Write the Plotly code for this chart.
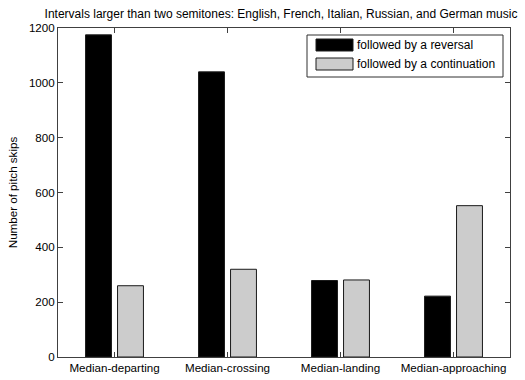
import plotly.graph_objects as go

# Skip categories and counts for each outcome
categories = ["Median-departing", "Median-crossing", "Median-landing", "Median-approaching"]
reversal = [1175, 1040, 279, 222]
continuation = [260, 320, 281, 552]
series_names = ["followed by a reversal", "followed by a continuation"]
y_ticks = [0, 200, 400, 600, 800, 1000, 1200]

FONT = "Liberation Sans, Arial, sans-serif"
colors = ["#000000", "#cccccc"]

fig = go.Figure()
for name, vals, col in zip(series_names, [reversal, continuation], colors):
    fig.add_trace(go.Bar(
        x=[1, 2, 3, 4], y=vals, name=name,
        marker=dict(color=col, line=dict(color="#1a1a1a", width=1)),
        showlegend=False,
    ))

fig.update_layout(
    width=525, height=380,
    margin=dict(l=58, r=15, t=28, b=23, autoexpand=False),
    paper_bgcolor="white", plot_bgcolor="white",
    barmode="group", bargap=0.434, bargroupgap=0.19,
    font=dict(family=FONT, size=11.6, color="black"),
    title=dict(
        text="Intervals larger than two semitones: English, French, Italian, Russian, and German music",
        x=281 / 525, xref="container", xanchor="center",
        y=1 - 14 / 380, yref="container", yanchor="middle",
        font=dict(family=FONT, size=12, color="black"),
        automargin=False,
    ),
    xaxis=dict(
        range=[0.5, 4.5], tickvals=[1, 2, 3, 4], ticktext=categories,
        ticks="inside", ticklen=5, tickcolor="#404040",
        showline=True, linecolor="#404040", linewidth=1, mirror="ticks",
        showgrid=False, zeroline=False, tickfont=dict(size=11.6),
        automargin=False,
    ),
    yaxis=dict(
        range=[0, 1200], tickvals=y_ticks,
        ticks="inside", ticklen=5, tickcolor="#404040",
        showline=True, linecolor="#404040", linewidth=1, mirror="ticks",
        showgrid=False, zeroline=False, tickfont=dict(size=11.6),
        title=dict(text="Number of pitch skips", font=dict(size=11.6), standoff=8),
        automargin=False,
    ),
)

# Legend box drawn in paper coordinates
def px_x(p):
    return (p - 58) / 452

def px_y(p):
    return (357 - p) / 329

fig.add_shape(type="rect", xref="paper", yref="paper",
              x0=px_x(307), x1=px_x(503), y0=px_y(77), y1=px_y(35),
              line=dict(color="#303030", width=1), fillcolor="white")
for i, (name, col) in enumerate(zip(series_names, colors)):
    cy = 45 + 19 * i
    fig.add_shape(type="rect", xref="paper", yref="paper",
                  x0=px_x(316), x1=px_x(353), y0=px_y(cy + 6), y1=px_y(cy - 6),
                  line=dict(color="#1a1a1a", width=1), fillcolor=col)
    fig.add_annotation(xref="paper", yref="paper", x=px_x(355), y=px_y(cy),
                       text=name, showarrow=False, xanchor="left", yanchor="middle",
                       font=dict(family=FONT, size=12, color="black"))

fig.write_html("out.html")
